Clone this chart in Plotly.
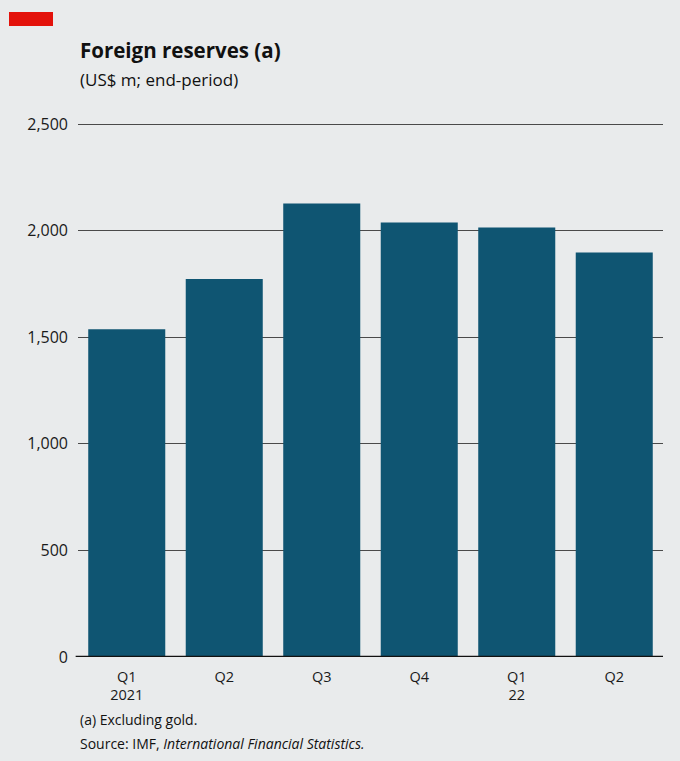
import plotly.graph_objects as go

# Foreign reserves, excluding gold (US$ m, end of period)
periods = ["2021 Q1", "2021 Q2", "2021 Q3", "2021 Q4", "2022 Q1", "2022 Q2"]
tick_labels = ["Q1<br>2021", "Q2", "Q3", "Q4", "Q1<br>22", "Q2"]
reserves = [1538, 1773, 2127, 2038, 2015, 1898]

y_ticks = [0, 500, 1000, 1500, 2000, 2500]
y_tick_labels = ["0", "500", "1,000", "1,500", "2,000", "2,500"]

BG = "#e9ebec"
BAR = "#0f5572"
FONT = "Open Sans, DejaVu Sans, sans-serif"

# Plot area in pixels
L, R, T, B = 78, 17, 123, 104
W, H = 680, 761
PW, PH = W - L - R, H - T - B

fig = go.Figure(
    go.Bar(
        x=periods,
        y=reserves,
        marker=dict(color=BAR, line=dict(width=0)),
        width=0.79,
        hoverinfo="skip",
    )
)

fig.update_layout(
    width=W,
    height=H,
    margin=dict(l=L, r=R, t=T, b=B),
    paper_bgcolor=BG,
    plot_bgcolor=BG,
    showlegend=False,
    font=dict(family=FONT, color="#1a1a1a"),
)

fig.update_xaxes(
    type="category",
    tickmode="array",
    tickvals=periods,
    ticktext=tick_labels,
    tickfont=dict(size=14.5, color="#1a1a1a"),
    showgrid=False,
    showline=False,
    ticks="",
    ticklabelstandoff=9,
    zeroline=False,
    range=[-0.5, 5.5],
    fixedrange=True,
)

fig.update_yaxes(
    range=[0, 2505],
    tickmode="array",
    tickvals=y_ticks,
    ticktext=y_tick_labels,
    tickfont=dict(size=16, color="#1a1a1a"),
    showgrid=True,
    gridcolor="#4a4a4a",
    gridwidth=1,
    zeroline=False,
    showline=False,
    ticks="",
    ticklabelstandoff=9,
    fixedrange=True,
)

# Baseline at zero
fig.add_shape(
    type="line", xref="paper", yref="y",
    x0=-0.004, x1=1.0, y0=0, y1=0,
    line=dict(color="#111111", width=2.5),
    layer="above",
)

def px_x(x):
    return (x - L) / PW

def px_y(y):
    return (H - B - y) / PH

# Red tag in the top-left corner
fig.add_shape(
    type="rect", xref="paper", yref="paper",
    x0=px_x(9), x1=px_x(53), y0=px_y(26), y1=px_y(12),
    fillcolor="#e3120b", line=dict(width=0), layer="above",
)

annotations = [
    dict(text="<b>Foreign reserves (a)</b>", x=78, y=50, size=20.5),
    dict(text="(US$ m; end-period)", x=78, y=80, size=17),
    dict(text="(a) Excluding gold.", x=78, y=719, size=14),
    dict(text="Source: IMF, <i>International Financial Statistics.</i>", x=78, y=743, size=14),
]
for a in annotations:
    fig.add_annotation(
        text=a["text"],
        xref="paper", yref="paper",
        x=px_x(a["x"]),
        y=px_y(a["y"]),
        xanchor="left", yanchor="middle",
        showarrow=False,
        font=dict(size=a["size"], family=FONT, color="#111111"),
    )

fig.write_html("out.html")
